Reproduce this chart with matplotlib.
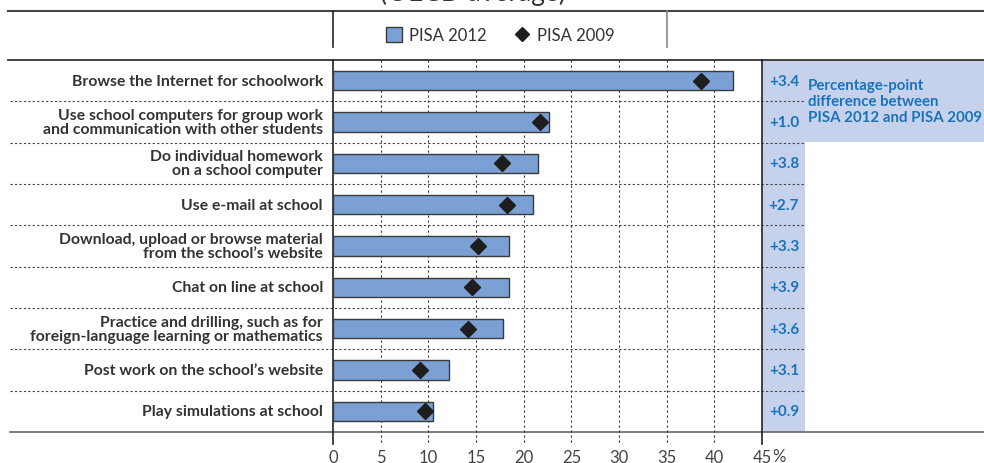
import matplotlib.pyplot as plt
from matplotlib.patches import Patch, Rectangle
from matplotlib.lines import Line2D

plt.rcParams['font.family'] = ['Lato', 'DejaVu Sans']

categories = [
    "Browse the Internet for schoolwork",
    "Use school computers for group work\nand communication with other students",
    "Do individual homework\non a school computer",
    "Use e-mail at school",
    "Download, upload or browse material\nfrom the school\u2019s website",
    "Chat on line at school",
    "Practice and drilling, such as for\nforeign-language learning or mathematics",
    "Post work on the school\u2019s website",
    "Play simulations at school",
]
pisa_2012 = [42.0, 22.7, 21.5, 21.0, 18.5, 18.5, 17.8, 12.2, 10.5]
pisa_2009 = [38.6, 21.7, 17.7, 18.3, 15.2, 14.6, 14.2, 9.1, 9.6]
diff_labels = ["+3.4", "+1.0", "+3.8", "+2.7", "+3.3", "+3.9", "+3.6", "+3.1", "+0.9"]
ticks = [0, 5, 10, 15, 20, 25, 30, 35, 40, 45]

bar_col = '#7ba0d4'
band_col = '#c6d2eb'
txt_blue = '#1a72bb'
dark = '#333333'

W, H = 984, 464
fig = plt.figure(figsize=(W / 100, H / 100), dpi=100)

# pixel-coordinate overlay for the frame lines and shaded band
frame = fig.add_axes([0, 0, 1, 1], zorder=0)
frame.set_xlim(0, W)
frame.set_ylim(H, 0)
frame.axis('off')

# main data axes: x 0..45 maps to px 333..762, rows span px 61..433
ax = fig.add_axes([333 / W, 1 - 433 / H, 429 / W, (433 - 61) / H], zorder=1)
ax.patch.set_visible(False)
ax.set_xlim(0, 45)
ax.set_ylim(len(categories), 0)
for s in ax.spines.values():
    s.set_visible(False)

n = len(categories)
row_px = (433 - 61) / n

# shaded band on the right
frame.add_patch(Rectangle((762, 61), 805 - 762, 433 - 61, color=band_col, lw=0))
frame.add_patch(Rectangle((805, 61), W - 805, 143 - 61, color=band_col, lw=0))

# frame lines
frame.plot([8, W], [12, 12], color='#444444', lw=1.5)
frame.plot([8, W], [61, 61], color='#333333', lw=1.3)
frame.plot([10, W], [433, 433], color='#666666', lw=1.2)
frame.plot([333, 333], [12, 48], color='#222222', lw=1.2)
frame.plot([667, 667], [12, 48], color='#888888', lw=1.2)
for i in range(1, n):
    yy = 61 + i * row_px
    frame.plot([10, 805], [yy, yy], color='#444444', lw=0.8, ls=(0, (2, 2)))

# title (mostly cut off at top, as in the source)
fig.text(473 / W, 1 - 1.5 / H, "(OECD average)", ha='center', va='baseline',
         fontsize=19, color=dark)

# vertical grid lines
y_ext = n + 12 / row_px
for t in ticks:
    if t in (0, 45):
        ax.plot([t, t], [0, y_ext], color='#222222', lw=1.2, clip_on=False, zorder=1)
    else:
        ax.plot([t, t], [0, y_ext], color='#333333', lw=0.8, ls=(0, (2, 2.5)),
                clip_on=False, zorder=1)

ypos = [i + 0.5 for i in range(n)]
ax.barh(ypos, pisa_2012, height=0.47, color=bar_col, edgecolor='#3a3a3a',
        lw=1.0, zorder=3)
ax.plot(pisa_2009, ypos, ls='none', marker='D', ms=8.5, color='#1e1e1e', zorder=4)

# category labels
for y, c in zip(ypos, categories):
    ax.text(-1.05, y, c, ha='right', va='center', fontsize=11.3,
            fontweight='bold', color=dark, linespacing=1.0)

# difference labels
for y, d in zip(ypos, diff_labels):
    ax.text(47.3, y, d, ha='center', va='center', fontsize=11,
            fontweight='bold', color=txt_blue, clip_on=False)

frame.text(808, 102, "Percentage-point\ndifference between\nPISA 2012 and PISA 2009",
           ha='left', va='center', fontsize=10.8, fontweight='bold',
           color=txt_blue, linespacing=1.2)

# x ticks
ax.set_xticks(ticks)
ax.set_xticklabels([str(t) for t in ticks])
ax.tick_params(axis='x', length=0, pad=12, labelsize=12, labelcolor='#444444')
ax.tick_params(axis='y', left=False, labelleft=False)
ax.text(46.1, n + 24 / row_px, "%", ha='left', va='center', fontsize=12,
        color='#444444', clip_on=False)

# legend
handles = [Patch(facecolor=bar_col, edgecolor='#3a3a3a', lw=1.0),
           Line2D([], [], ls='none', marker='D', ms=7, color='#1e1e1e')]
fig.legend(handles, ["PISA 2012", "PISA 2009"], loc='center', ncol=2,
           bbox_to_anchor=(500 / W, 1 - 36 / H), frameon=False, fontsize=12,
           handlelength=1.0, handleheight=1.0, handletextpad=0.4,
           columnspacing=1.6, labelcolor='#333333')

fig.savefig('out.png', dpi=100)
